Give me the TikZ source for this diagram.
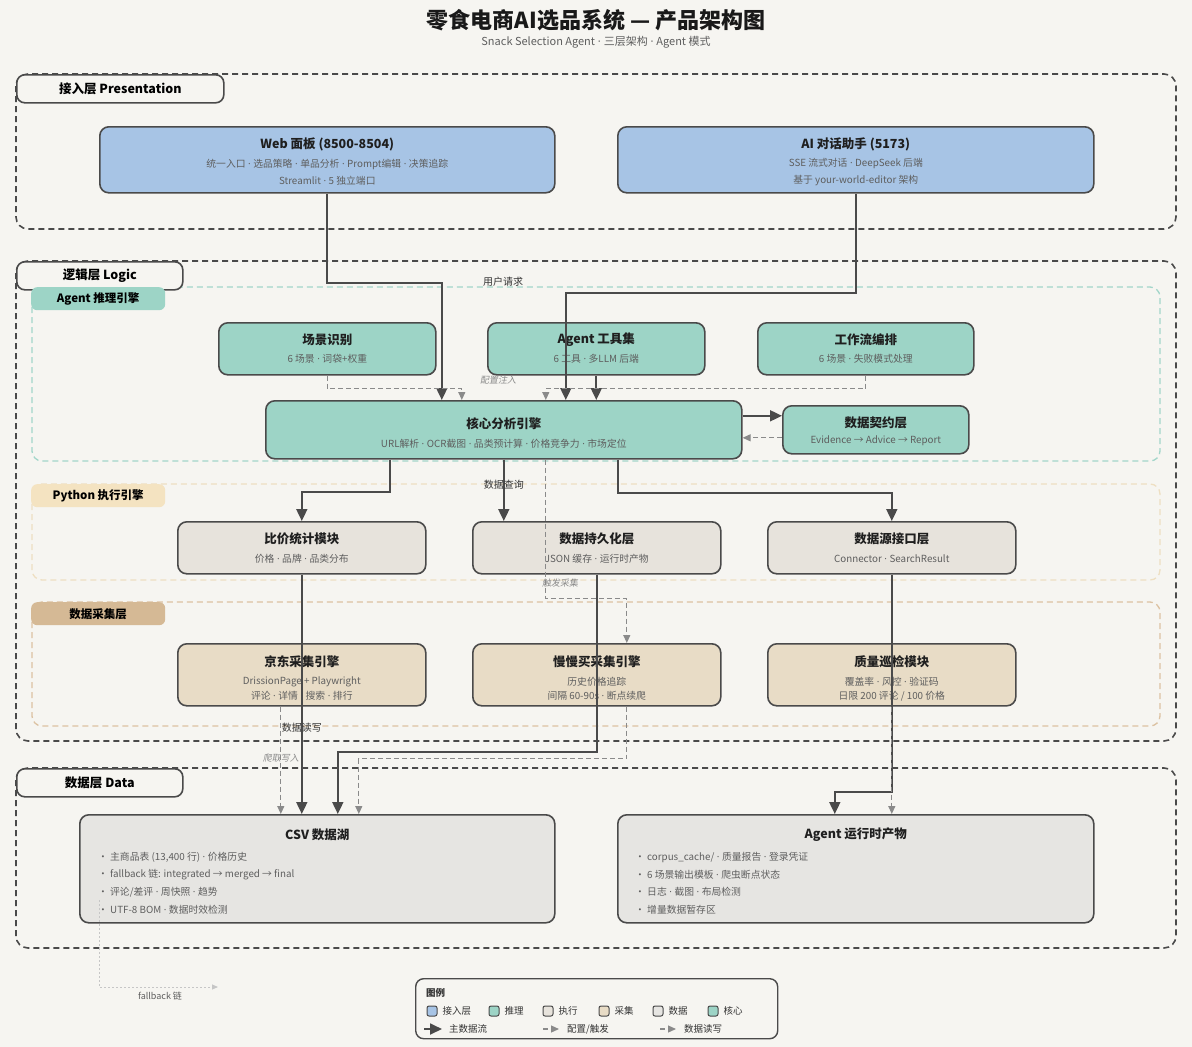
\documentclass[tikz,border=0pt]{standalone}
\usepackage{fontspec}
\setmainfont{Noto Sans CJK SC}
\newfontfamily\slantcjk{Noto Sans CJK SC}[FakeSlant=0.18]
\newfontfamily\latinfont{Noto Sans}
\newcommand{\mdt}{{\latinfont\ ·\ }}
\usepackage{tikz}
\usetikzlibrary{arrows.meta, positioning}

\definecolor{bgcol}{HTML}{F6F5F1}
\definecolor{edgedark}{HTML}{4A4A4A}
\definecolor{subgrey}{HTML}{5E5E5E}
\definecolor{cfggrey}{HTML}{8A8A8A}
\definecolor{webblue}{HTML}{A7C4E5}
\definecolor{agentteal}{HTML}{9DD4C6}
\definecolor{execgrey}{HTML}{E7E3DC}
\definecolor{collectbeige}{HTML}{E8DCC6}
\definecolor{datagrey}{HTML}{E6E5E2}
\definecolor{tealframe}{HTML}{A3D6CA}
\definecolor{pyframe}{HTML}{EEDFC2}
\definecolor{pytab}{HTML}{F4E3C1}
\definecolor{colframe}{HTML}{DCC2A2}
\definecolor{coltab}{HTML}{D5B995}

\tikzstyle{layerframe} = [draw=edgedark, line width=1.6pt, dash pattern=on 6pt off 4pt, rounded corners=12pt]
\tikzstyle{subframe} = [line width=1.3pt, dash pattern=on 6pt off 4pt, rounded corners=10pt]
\tikzstyle{tab} = [draw=edgedark, fill=bgcol, line width=1.6pt, rounded corners=8pt,
    anchor=north west, inner sep=0pt, minimum height=28pt, font=\bfseries\fontsize{12.5}{14}\selectfont]
\tikzstyle{subtab} = [rounded corners=6pt, anchor=north west, inner sep=0pt,
    minimum width=134pt, minimum height=23pt, font=\bfseries\fontsize{11.5}{13}\selectfont]
\tikzstyle{block} = [draw=edgedark, line width=1.6pt, rounded corners=9pt, anchor=north west, inner sep=0pt]
\tikzstyle{ttl} = [inner sep=0pt, text=black!88, font=\bfseries\fontsize{12.5}{14}\selectfont]
\tikzstyle{subtxt} = [inner sep=0pt, text=subgrey, font=\fontsize{9.8}{11}\selectfont]
\tikzstyle{bullet} = [inner sep=0pt, anchor=west, text=subgrey, font=\fontsize{9.8}{11}\selectfont]
\tikzstyle{elabel} = [inner sep=0pt, text=black!80, font=\fontsize{10}{12}\selectfont]
\tikzstyle{clabel} = [inner sep=0pt, text=cfggrey, font=\slantcjk\fontsize{9}{11}\selectfont]
\tikzstyle{flow} = [draw=edgedark, line width=1.8pt, ->]
\tikzstyle{cfg} = [draw=cfggrey, line width=1.2pt, dash pattern=on 5pt off 3pt, -{Triangle[length=8pt, width=7pt]}]
\tikzstyle{fbline} = [draw=gray!45, line width=1pt, dash pattern=on 2pt off 2pt, -{Triangle[length=6pt, width=5pt]}]
\tikzstyle{swatch} = [draw=edgedark, line width=1pt, rounded corners=2pt, minimum size=10pt, inner sep=0pt]
\tikzstyle{legtxt} = [inner sep=0pt, anchor=west, text=black!80, font=\fontsize{9.5}{11}\selectfont]

\begin{document}
\begin{tikzpicture}[x=1pt, y=-1pt, >={Triangle[length=12pt, width=11pt]}]
    \fill[bgcol] (0,0) rectangle (1192,1047);
    \useasboundingbox (0,0) rectangle (1192,1047);

    \node[font=\bfseries\fontsize{22}{26}\selectfont, text=black!90] (title) at (596,20) {零食电商AI选品系统 — 产品架构图};
    \node[font=\fontsize{11}{13}\selectfont, text=subgrey] (subtitle) at (596,42) {Snack Selection Agent\mdt{}三层架构\mdt{}Agent 模式};

    % layers
    \draw[layerframe] (16,74) rectangle (1176,229);
    \draw[layerframe] (16,261) rectangle (1176,741);
    \draw[layerframe] (16,768) rectangle (1176,948);
    \draw[subframe, draw=tealframe] (32,287) rectangle (1160,461);
    \draw[subframe, draw=pyframe] (32,484) rectangle (1160,580);
    \draw[subframe, draw=colframe] (32,602) rectangle (1160,726);

    \node[tab, minimum width=207pt] (tabPres) at (16,74) {接入层 Presentation};
    \node[tab, minimum width=166pt] (tabLogic) at (16,261) {逻辑层 Logic};
    \node[tab, minimum width=166pt] (tabData) at (16,768) {数据层 Data};
    \node[subtab, fill=agentteal] (tabAgent) at (31,287) {Agent 推理引擎};
    \node[subtab, fill=pytab] (tabPy) at (31,484) {Python 执行引擎};
    \node[subtab, fill=coltab] (tabCol) at (31,602) {数据采集层};

    % presentation
    \node[block, fill=webblue, minimum width=455pt, minimum height=66pt] (web) at (99,126) {};
    \node[ttl] (webT) at ([yshift=-18pt]web.north) {Web 面板 (8500-8504)};
    \node[subtxt] (webS1) at ([yshift=-38pt]web.north) {统一入口\mdt{}选品策略\mdt{}单品分析\mdt{}Prompt编辑\mdt{}决策追踪};
    \node[subtxt] (webS2) at ([yshift=-55pt]web.north) {Streamlit\mdt{}5 独立端口};

    \node[block, fill=webblue, minimum width=476pt, minimum height=66pt] (ai) at (617,126) {};
    \node[ttl] (aiT) at ([yshift=-18pt]ai.north) {AI 对话助手 (5173)};
    \node[subtxt] (aiS1) at ([yshift=-38pt]ai.north) {SSE 流式对话\mdt{}DeepSeek 后端};
    \node[subtxt] (aiS2) at ([yshift=-55pt]ai.north) {基于 your-world-editor 架构};

    % agent reasoning
    \node[block, fill=agentteal, minimum width=217pt, minimum height=52pt] (scene) at (218,322) {};
    \node[ttl] (sceneT) at ([yshift=-18pt]scene.north) {场景识别};
    \node[subtxt] (sceneS) at ([yshift=-37pt]scene.north) {6 场景\mdt{}词袋+权重};

    \node[block, fill=agentteal, minimum width=217pt, minimum height=52pt] (tool) at (487,322) {};
    \node[ttl] (toolT) at ([yshift=-18pt]tool.north) {Agent 工具集};
    \node[subtxt] (toolS) at ([yshift=-37pt]tool.north) {6 工具\mdt{}多LLM 后端};

    \node[block, fill=agentteal, minimum width=216pt, minimum height=52pt] (workflow) at (757,322) {};
    \node[ttl] (workflowT) at ([yshift=-18pt]workflow.north) {工作流编排};
    \node[subtxt] (workflowS) at ([yshift=-37pt]workflow.north) {6 场景\mdt{}失败模式处理};

    \node[block, fill=agentteal, minimum width=476pt, minimum height=58pt] (core) at (265,400) {};
    \node[ttl] (coreT) at ([yshift=-24pt]core.north) {核心分析引擎};
    \node[subtxt] (coreS) at ([yshift=-44pt]core.north) {URL解析\mdt{}OCR截图\mdt{}品类预计算\mdt{}价格竞争力\mdt{}市场定位};

    \node[block, fill=agentteal, minimum width=186pt, minimum height=48pt] (contract) at (782,405) {};
    \node[ttl] (contractT) at ([yshift=-18pt]contract.north) {数据契约层};
    \node[subtxt] (contractS) at ([yshift=-36pt]contract.north) {Evidence → Advice → Report};

    % python
    \node[block, fill=execgrey, minimum width=248pt, minimum height=52pt] (cmp) at (177,521) {};
    \node[ttl] (cmpT) at ([yshift=-18pt]cmp.north) {比价统计模块};
    \node[subtxt] (cmpS) at ([yshift=-38pt]cmp.north) {价格\mdt{}品牌\mdt{}品类分布};

    \node[block, fill=execgrey, minimum width=248pt, minimum height=52pt] (persist) at (472,521) {};
    \node[ttl] (persistT) at ([yshift=-18pt]persist.north) {数据持久化层};
    \node[subtxt] (persistS) at ([yshift=-38pt]persist.north) {JSON 缓存\mdt{}运行时产物};

    \node[block, fill=execgrey, minimum width=248pt, minimum height=52pt] (src) at (767,521) {};
    \node[ttl] (srcT) at ([yshift=-18pt]src.north) {数据源接口层};
    \node[subtxt] (srcS) at ([yshift=-38pt]src.north) {Connector\mdt{}SearchResult};

    % collection
    \node[block, fill=collectbeige, minimum width=248pt, minimum height=62pt] (jd) at (177,643) {};
    \node[ttl] (jdT) at ([yshift=-19pt]jd.north) {京东采集引擎};
    \node[subtxt] (jdS1) at ([yshift=-39pt]jd.north) {DrissionPage + Playwright};
    \node[subtxt] (jdS2) at ([yshift=-53pt]jd.north) {评论\mdt{}详情\mdt{}搜索\mdt{}排行};

    \node[block, fill=collectbeige, minimum width=248pt, minimum height=62pt] (mmm) at (472,643) {};
    \node[ttl] (mmmT) at ([yshift=-19pt]mmm.north) {慢慢买采集引擎};
    \node[subtxt] (mmmS1) at ([yshift=-39pt]mmm.north) {历史价格追踪};
    \node[subtxt] (mmmS2) at ([yshift=-53pt]mmm.north) {间隔 60-90s\mdt{}断点续爬};

    \node[block, fill=collectbeige, minimum width=248pt, minimum height=62pt] (qc) at (767,643) {};
    \node[ttl] (qcT) at ([yshift=-19pt]qc.north) {质量巡检模块};
    \node[subtxt] (qcS1) at ([yshift=-39pt]qc.north) {覆盖率\mdt{}风控\mdt{}验证码};
    \node[subtxt] (qcS2) at ([yshift=-53pt]qc.north) {日限 200 评论 / 100 价格};

    % data
    \node[block, fill=datagrey, minimum width=475pt, minimum height=108pt] (csv) at (79,814) {};
    \node[ttl] (csvT) at ([yshift=-21pt]csv.north) {CSV 数据湖};
    \node[bullet] (csvI1) at (98,857) {• 主商品表 (13,400 行)\mdt{}价格历史};
    \node[bullet] (csvI2) at (98,875) {• fallback 链: integrated → merged → final};
    \node[bullet] (csvI3) at (98,892) {• 评论/差评\mdt{}周快照\mdt{}趋势};
    \node[bullet] (csvI4) at (98,910) {• UTF-8 BOM\mdt{}数据时效检测};

    \node[block, fill=datagrey, minimum width=476pt, minimum height=108pt] (runtime) at (617,814) {};
    \node[ttl] (runtimeT) at ([yshift=-21pt]runtime.north) {Agent 运行时产物};
    \node[bullet] (rtI1) at (635,857) {• corpus\_cache/\mdt{}质量报告\mdt{}登录凭证};
    \node[bullet] (rtI2) at (635,875) {• 6 场景输出模板\mdt{}爬虫断点状态};
    \node[bullet] (rtI3) at (635,892) {• 日志\mdt{}截图\mdt{}布局检测};
    \node[bullet] (rtI4) at (635,910) {• 增量数据暂存区};

    % connectors
    \draw[flow] (web.south) -- ++(0,89) -| ([xshift=-62pt]core.north);
    \draw[flow] (ai.south) -- ++(0,99) -| ([xshift=62pt]core.north);
    \node[elabel] (lblReq) at (503,282) {用户请求};
    \draw[flow] (tool.south) -- (tool.south |- core.north);
    \draw[cfg] (scene.south) -- ++(0,13) -| ([xshift=-42pt]core.north);
    \draw[cfg] (workflow.south) -- ++(0,13) -| ([xshift=42pt]core.north);
    \node[clabel] (lblCfg) at (498,380) {配置注入};

    \coordinate (coreOut) at ([yshift=14pt]core.east);
    \coordinate (contractOut) at ([yshift=-8pt]contract.west);
    \draw[flow] (coreOut) -- (coreOut -| contract.west);
    \draw[cfg] (contractOut) -- (contractOut -| core.east);

    \draw[flow] ([xshift=-114pt]core.south) -- ++(0,32) -| (cmp.north);
    \draw[flow] (core.south) -- node[elabel, pos=0.41] (lblQuery) {数据查询} (core.south |- persist.north);
    \draw[flow] ([xshift=114pt]core.south) -- ++(0,33) -| (src.north);
    \draw[cfg] ([xshift=42pt]core.south) -- ++(0,139) -| ([xshift=30pt]mmm.north);
    \node[clabel] (lblTrig) at (560,583) {触发采集};

    \draw[flow] (cmp.south) -- node[elabel, pos=0.64] (lblRw) {数据读写} (cmp.south |- csv.north);
    \draw[flow] (persist.south) -- ++(0,177) -| ([xshift=20.5pt]csv.north);
    \draw[flow] (src.south) -- ++(0,217) -| ([xshift=-21pt]runtime.north);

    \coordinate (jdOut) at ([xshift=-21pt]jd.south);
    \draw[cfg] (jdOut) -- node[clabel, pos=0.48] (lblCrawl) {爬取写入} (jdOut |- csv.north);
    \draw[cfg] ([xshift=30pt]mmm.south) -- ++(0,52) -| ([xshift=41.5pt]csv.north);
    \draw[cfg] (qc.south) -- (qc.south |- runtime.north);

    \coordinate (fbStart) at (99,900);
    \coordinate (fbEnd) at (218,987);
    \draw[fbline] (fbStart) |- (fbEnd);
    \node[inner sep=0pt, text=subgrey, font=\fontsize{9}{11}\selectfont] (fbLbl) at (160,996) {fallback 链};

    % legend
    \node[block, fill=bgcol, line width=1.4pt, rounded corners=8pt, minimum width=362pt, minimum height=60pt] (legend) at (415,978) {};
    \node[inner sep=0pt, anchor=west, font=\bfseries\fontsize{9.5}{11}\selectfont, text=black!80] (legT) at (426,993) {图例};
    \foreach \x/\c/\t in {432/webblue/接入层, 494/agentteal/推理, 548/execgrey/执行, 604/collectbeige/采集, 658/datagrey/数据, 713/agentteal/核心} {
        \node[swatch, fill=\c] (sw\x) at (\x,1011) {};
        \node[legtxt] at ([xshift=5pt]sw\x.east) {\t};
    }
    \coordinate (lgA1) at (424,1029);
    \coordinate (lgA2) at (442,1029);
    \draw[flow] (lgA1) -- (lgA2);
    \node[legtxt] (lgT1) at (449,1029) {主数据流};
    \coordinate (lgB1) at (543,1029);
    \coordinate (lgB2) at (559,1029);
    \draw[cfg] (lgB1) -- (lgB2);
    \node[legtxt] (lgT2) at (567,1029) {配置/触发};
    \coordinate (lgC1) at (660,1029);
    \coordinate (lgC2) at (676,1029);
    \draw[cfg] (lgC1) -- (lgC2);
    \node[legtxt] (lgT3) at (684,1029) {数据读写};
\end{tikzpicture}
\end{document}
